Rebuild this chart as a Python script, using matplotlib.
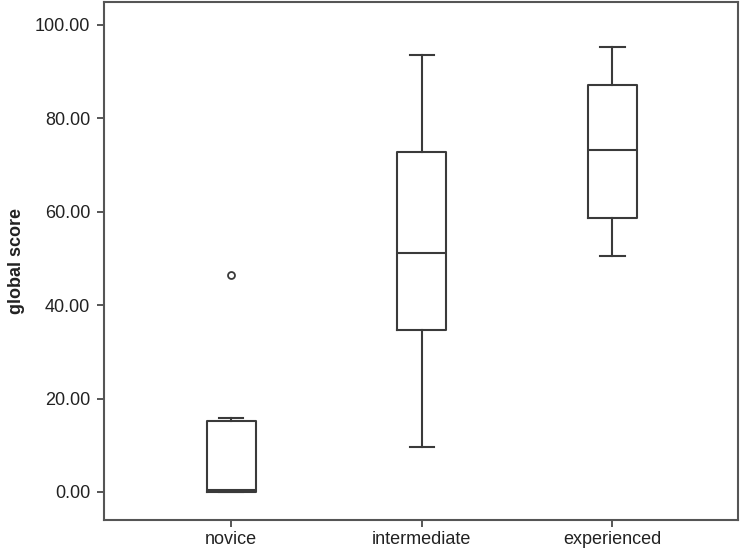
import matplotlib
matplotlib.use('Agg')
import matplotlib.pyplot as plt

plt.rcParams['font.family'] = ['Liberation Sans', 'DejaVu Sans']

# 各组数值
groups = ['novice', 'intermediate', 'experienced']
whislo = [0.0, 9.6, 50.6]
q1 = [0.0, 34.7, 58.7]
med = [0.4, 51.2, 73.2]
q3 = [15.2, 72.7, 87.2]
whishi = [15.8, 93.6, 95.2]
fliers = [[46.4], [], []]

stats = []
for i, g in enumerate(groups):
    stats.append({'label': g, 'whislo': whislo[i], 'q1': q1[i], 'med': med[i],
                  'q3': q3[i], 'whishi': whishi[i], 'fliers': fliers[i]})

line_c = '#3a3a3a'
lw = 1.5

fig = plt.figure(figsize=(7.41, 5.53), dpi=100)
ax = fig.add_axes([104 / 741, 1 - 520 / 553, 634 / 741, 518 / 553])

ax.bxp(stats, positions=[1, 2, 3], widths=0.257, capwidths=0.126,
       boxprops=dict(color=line_c, linewidth=lw),
       whiskerprops=dict(color=line_c, linewidth=lw),
       capprops=dict(color=line_c, linewidth=lw),
       medianprops=dict(color=line_c, linewidth=lw),
       flierprops=dict(marker='o', markersize=5, markerfacecolor='white',
                       markeredgecolor=line_c, markeredgewidth=1.3))

ax.set_xlim(0.334, 3.658)
ax.set_ylim(-6.0, 104.9)
ax.set_yticks([0, 20, 40, 60, 80, 100])
ax.set_yticklabels([f'{v:.2f}' for v in [0, 20, 40, 60, 80, 100]])
ax.set_xticks([1, 2, 3])
ax.set_xticklabels(groups)
ax.tick_params(axis='both', direction='out', length=5, width=1.2, colors=line_c,
               labelsize=13, labelcolor='#222222', pad=5)
ax.tick_params(axis='x', pad=3)

for s in ax.spines.values():
    s.set_color('#555555')
    s.set_linewidth(1.5)

ax.set_ylabel('global score', fontsize=13, fontweight='bold', color='#222222', labelpad=7)

fig.savefig('out.png', dpi=100)
